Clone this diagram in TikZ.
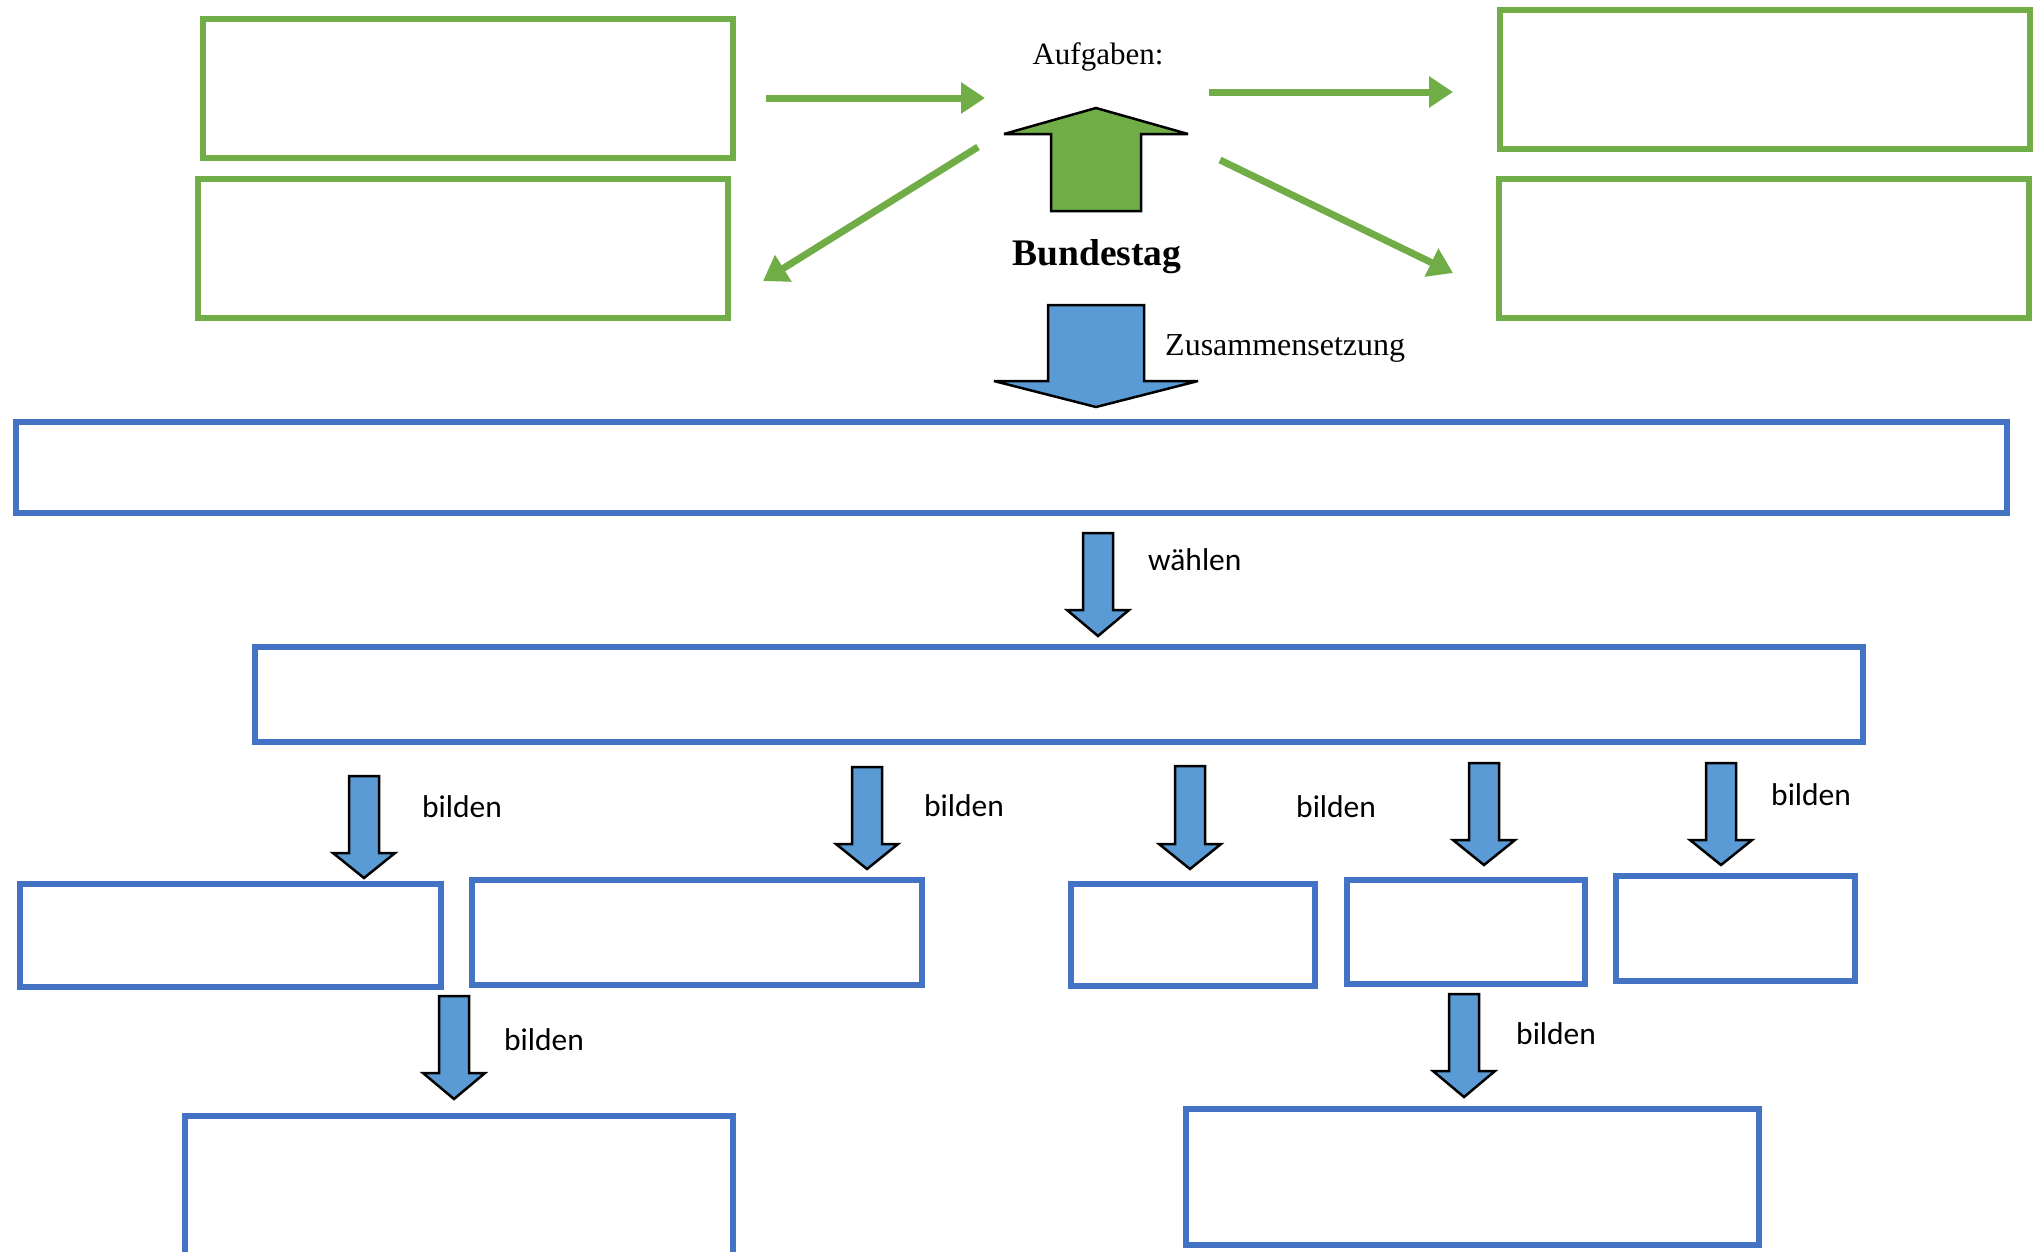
\documentclass[tikz,border=0pt]{standalone}
\usepackage{fontspec}
\setmainfont{Liberation Serif}
\newfontfamily\calibri{Carlito}
\usetikzlibrary{arrows.meta}

\definecolor{gruen}{HTML}{70AD47}
\definecolor{blaurand}{HTML}{4472C4}
\definecolor{blaufuell}{HTML}{5B9BD5}

\tikzset{
  gruenbox/.style={draw=gruen, line width=6pt, minimum width=530pt, minimum height=139pt, inner sep=0pt},
  blaubox/.style={draw=blaurand, line width=6pt, inner sep=0pt},
  gruenpfeil/.style={draw=gruen, line width=7pt, -{Triangle[length=24pt, width=30pt]}},
  klotz/.style={draw=black, line width=2.5pt, line join=miter, miter limit=4},
  serif/.style={inner sep=0pt, font=\fontsize{31}{34}\selectfont},
  calib/.style={inner sep=0pt, font=\calibri\fontsize{31.5}{34}\selectfont},
}

% #1 fill, #2 x, #3 start y, #4 tip y, #5 half shaft, #6 half head, #7 head length
\newcommand{\klotzpfeil}[7]{%
  \filldraw[klotz, fill=#1] ({#2-#5},{#3}) -- ({#2+#5},{#3}) -- ({#2+#5},{#4-#7})
    -- ({#2+#6},{#4-#7}) -- ({#2},{#4}) -- ({#2-#6},{#4-#7}) -- ({#2-#5},{#4-#7}) -- cycle;}

\begin{document}
\begin{tikzpicture}[x=1pt, y=-1pt]

          \clip (0,0) rectangle (2040,1251);

          % Aufgaben
          \node[gruenbox] (aufgabe1) at (468,88.5) {};
          \node[gruenbox] (aufgabe2) at (463,248.5) {};
          \node[gruenbox] (aufgabe3) at (1765,79.5) {};
          \node[gruenbox] (aufgabe4) at (1763.5,248.5) {};

          \node[serif, anchor=base] (aufgaben) at (1098,64) {Aufgaben:};
          \node[serif, anchor=base, font=\bfseries\fontsize{37.5}{40}\selectfont] (bundestag) at (1097,265) {Bundestag};

          \coordinate (p1s) at (766,98);   \coordinate (p1e) at (985,98);
          \coordinate (p2s) at (978,147);  \coordinate (p2e) at (763,281);
          \coordinate (p3s) at (1209,92);  \coordinate (p3e) at (1453,92);
          \coordinate (p4s) at (1220,160); \coordinate (p4e) at (1453,273);

          \draw[gruenpfeil] (p1s) -- (p1e);
          \draw[gruenpfeil] (p2s) -- (p2e);
          \draw[gruenpfeil] (p3s) -- (p3e);
          \draw[gruenpfeil] (p4s) -- (p4e);

          \klotzpfeil{gruen}{1096}{211}{108}{45}{92}{-26}

          % Zusammensetzung
          \klotzpfeil{blaufuell}{1096}{305}{407}{48}{102}{26}
          \node[serif, anchor=base west, font=\fontsize{32}{34}\selectfont] (zusammen) at (1165,355) {Zusammensetzung};

          \node[blaubox, minimum width=1991pt, minimum height=91pt] (sitze) at (1011.5,467.5) {};

          \klotzpfeil{blaufuell}{1098}{533}{636}{15}{31}{26}
          \node[calib, anchor=base west] (waehlen) at (1148,570) {wählen};

          \node[blaubox, minimum width=1608pt, minimum height=95pt] (wahl) at (1059,694.5) {};

          % bilden
          \klotzpfeil{blaufuell}{364}{776}{878}{15}{31}{25}
          \klotzpfeil{blaufuell}{867}{767}{869}{15}{31}{25}
          \klotzpfeil{blaufuell}{1190}{766}{869}{15}{31}{25}
          \klotzpfeil{blaufuell}{1484}{763}{865}{15}{31}{25}
          \klotzpfeil{blaufuell}{1721}{763}{865}{15}{31}{25}

          \node[calib, anchor=base west] (bilden1) at (422,817) {bilden};
          \node[calib, anchor=base west] (bilden2) at (924,816) {bilden};
          \node[calib, anchor=base west] (bilden3) at (1296,817) {bilden};
          \node[calib, anchor=base west] (bilden5) at (1771,805) {bilden};

          \node[blaubox, minimum width=421pt, minimum height=103pt] (reihe1) at (230.5,935.5) {};
          \node[blaubox, minimum width=450pt, minimum height=105pt] (reihe2) at (697,932.5) {};
          \node[blaubox, minimum width=244pt, minimum height=102pt] (reihe3) at (1193,935) {};
          \node[blaubox, minimum width=238pt, minimum height=104pt] (reihe4) at (1466,932) {};
          \node[blaubox, minimum width=239pt, minimum height=105pt] (reihe5) at (1735.5,928.5) {};

          \klotzpfeil{blaufuell}{454}{996}{1099}{15}{31}{26}
          \klotzpfeil{blaufuell}{1464}{994}{1097}{15}{31}{26}

          \node[calib, anchor=base west] (bilden6) at (504,1050) {bilden};
          \node[calib, anchor=base west] (bilden7) at (1516,1044) {bilden};

          \node[blaubox, minimum width=548pt, minimum height=146pt] (unten1) at (459,1189) {};
          \node[blaubox, minimum width=573pt, minimum height=136pt] (unten2) at (1472.5,1177) {};
        \end{tikzpicture}
\end{document}
